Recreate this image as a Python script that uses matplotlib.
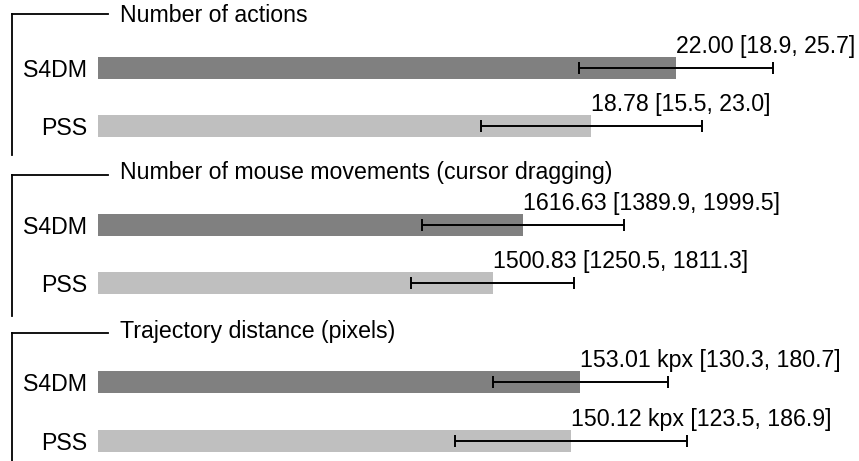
import matplotlib
matplotlib.use("Agg")
import matplotlib.pyplot as plt
from matplotlib.lines import Line2D

plt.rcParams["font.family"] = ["Liberation Sans", "DejaVu Sans"]

# ---- data -------------------------------------------------------------
titles = [
    "Number of actions",
    "Number of mouse movements (cursor dragging)",
    "Trajectory distance (pixels)",
]
conditions = ["S4DM", "PSS"]
means = [
    [22.00, 18.78],
    [1616.63, 1500.83],
    [153.01, 150.12],
]
ci_low = [
    [18.9, 15.5],
    [1389.9, 1250.5],
    [130.3, 123.5],
]
ci_high = [
    [25.7, 23.0],
    [1999.5, 1811.3],
    [180.7, 186.9],
]
units = ["", "", " kpx"]

# ---- layout (pixels) ---------------------------------------------------
W, H, DPI = 859, 461, 100
x_limits = [28.96, 2894.0, 241.4]
panel_top = [14, 175, 333]      # bracket line / axes top
panel_bottom = [155, 316, 461]  # end of the bracket's vertical stroke
row_first = [68, 225, 382]      # centre of first bar
row_second = [126, 283, 441]    # centre of second bar
axes_left, axes_right = 98, 859
bar_px = 22
title_x = 120
title_baseline = [21.7, 179.3, 338.0]
bracket_x0, bracket_x1 = 11.5, 108

bar_colors = ["#808080", "#bfbfbf"]
FS = 16.7

fig = plt.figure(figsize=(W / DPI, H / DPI), dpi=DPI)


def fx(px):
    return px / W


def fy(py):
    return 1 - py / H


for i in range(3):
    top, bot = panel_top[i], panel_bottom[i]
    c0, c1 = row_first[i], row_second[i]
    unit = c1 - c0
    ax = fig.add_axes([fx(axes_left), fy(bot), fx(axes_right - axes_left),
                       (bot - top) / H])
    y_top = -(c0 - top) / unit
    y_bot = 1 + (bot - c1) / unit
    ax.set_ylim(y_bot, y_top)
    ax.set_xlim(0, x_limits[i])

    pos = list(range(len(conditions)))
    h = bar_px / unit
    ax.barh(pos, means[i], height=h, color=bar_colors, edgecolor="none", zorder=1)

    # whiskers: symmetric, half-width taken from the upper CI bound
    half = [hi - m for hi, m in zip(ci_high[i], means[i])]
    ax.errorbar(means[i], pos, xerr=half, fmt="none", ecolor="black",
                elinewidth=1.4, capsize=4, capthick=1.4, zorder=3)

    for p, m, lo, hi in zip(pos, means[i], ci_low[i], ci_high[i]):
        ax.annotate(f"{m:.2f}{units[i]} [{lo:.1f}, {hi:.1f}]",
                    xy=(m, p - h / 2), xytext=(0, 3), textcoords="offset points",
                    ha="left", va="baseline", fontsize=FS, color="black",
                    annotation_clip=False)

    ax.set_yticks(pos)
    ax.set_yticklabels(conditions, fontsize=FS)
    ax.tick_params(axis="y", length=0, pad=8)
    ax.set_xticks([])
    for s in ax.spines.values():
        s.set_visible(False)
    ax.patch.set_visible(False)

    # bracket and title
    fig.add_artist(Line2D([fx(bracket_x0), fx(bracket_x1)],
                          [fy(top), fy(top)], color="black", lw=1.3,
                          transform=fig.transFigure))
    fig.add_artist(Line2D([fx(bracket_x0), fx(bracket_x0)],
                          [fy(top), fy(bot)], color="black", lw=1.3,
                          solid_capstyle="projecting",
                          transform=fig.transFigure))
    fig.text(fx(title_x), fy(title_baseline[i]), titles[i], fontsize=FS,
             ha="left", va="baseline")

fig.savefig("out.png", dpi=DPI)
